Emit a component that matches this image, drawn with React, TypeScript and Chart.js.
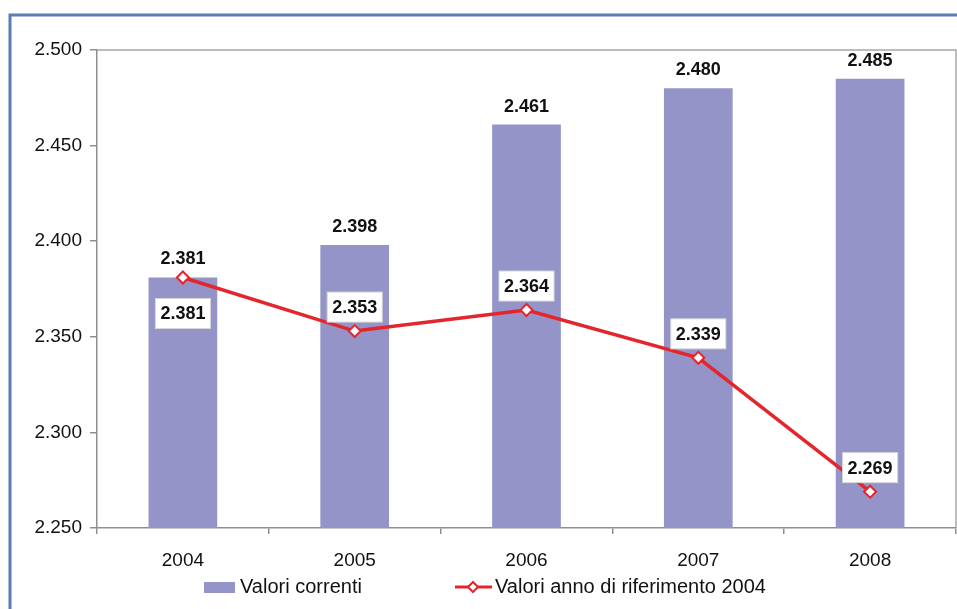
import React, { useEffect, useRef } from "react";
import { Chart, registerables } from "chart.js";

Chart.register(...registerables);

const years = ["2004", "2005", "2006", "2007", "2008"];
const valoriCorrenti = [2381, 2398, 2461, 2480, 2485];
const valoriRiferimento = [2381, 2353, 2364, 2339, 2269];
const lineLabelBelow = [true, false, false, false, false];
const yMin = 2250;
const yMax = 2500;
const yStep = 50;
const seriesNames = ["Valori correnti", "Valori anno di riferimento 2004"];

const FONT = "'Liberation Sans', Arial, sans-serif";
const BAR_COLOR = "#9494c8";
const LINE_COLOR = "#e3262c";
const AXIS_COLOR = "#8f8f8f";
const FRAME_COLOR = "#5a7db4";

const fmt = (v: number) =>
  `${Math.floor(v / 1000)}.${String(Math.round(v % 1000)).padStart(3, "0")}`;

const decorPlugin = {
  id: "decor",
  beforeDraw(chart: any) {
    const ctx = chart.ctx;
    ctx.save();
    ctx.fillStyle = "#ffffff";
    ctx.fillRect(0, 0, chart.width, chart.height);
    ctx.strokeStyle = FRAME_COLOR;
    ctx.lineWidth = 3;
    ctx.beginPath();
    ctx.moveTo(10, chart.height);
    ctx.lineTo(10, 15);
    ctx.lineTo(chart.width, 15);
    ctx.stroke();
    ctx.restore();
  },
  beforeDatasetsDraw(chart: any) {
    const { ctx, chartArea } = chart;
    ctx.save();
    ctx.strokeStyle = "#a8a8a8";
    ctx.lineWidth = 1.5;
    ctx.beginPath();
    ctx.moveTo(chartArea.left, chartArea.top);
    ctx.lineTo(chartArea.right, chartArea.top);
    ctx.lineTo(chartArea.right, chartArea.bottom);
    ctx.stroke();
    ctx.restore();
  },
  afterDatasetsDraw(chart: any) {
    const ctx = chart.ctx;
    ctx.save();
    ctx.font = `bold 18px ${FONT}`;
    ctx.textAlign = "center";
    ctx.textBaseline = "middle";
    ctx.fillStyle = "#111111";
    const barMeta = chart.getDatasetMeta(0);
    barMeta.data.forEach((el: any, i: number) => {
      ctx.fillText(fmt(valoriCorrenti[i]), el.x, el.y - 18);
    });
    const lineMeta = chart.getDatasetMeta(1);
    lineMeta.data.forEach((el: any, i: number) => {
      const txt = fmt(valoriRiferimento[i]);
      const w = ctx.measureText(txt).width + 10;
      const h = 30;
      const cy = lineLabelBelow[i] ? el.y + 36 : el.y - 24;
      ctx.fillStyle = "#ffffff";
      ctx.fillRect(el.x - w / 2, cy - h / 2, w, h);
      ctx.strokeStyle = "#d8d8d8";
      ctx.lineWidth = 1;
      ctx.strokeRect(el.x - w / 2, cy - h / 2, w, h);
      ctx.fillStyle = "#111111";
      ctx.fillText(txt, el.x, cy + 1);
    });
    ctx.restore();
  },
  afterDraw(chart: any) {
    const ctx = chart.ctx;
    ctx.save();
    const ly = 587;
    ctx.fillStyle = BAR_COLOR;
    ctx.fillRect(204, 582, 31, 11);
    ctx.font = `20px ${FONT}`;
    ctx.textAlign = "left";
    ctx.textBaseline = "middle";
    ctx.fillStyle = "#111111";
    ctx.fillText(seriesNames[0], 240, ly);
    ctx.strokeStyle = LINE_COLOR;
    ctx.lineWidth = 3;
    ctx.beginPath();
    ctx.moveTo(455, ly);
    ctx.lineTo(492, ly);
    ctx.stroke();
    ctx.beginPath();
    ctx.moveTo(473, ly - 5);
    ctx.lineTo(478, ly);
    ctx.lineTo(473, ly + 5);
    ctx.lineTo(468, ly);
    ctx.closePath();
    ctx.fillStyle = "#ffffff";
    ctx.fill();
    ctx.lineWidth = 2;
    ctx.stroke();
    ctx.fillStyle = "#111111";
    ctx.fillText(seriesNames[1], 495, ly);
    ctx.restore();
  },
};

export default function App() {
  const ref = useRef<HTMLCanvasElement | null>(null);
  useEffect(() => {
    document.body.style.margin = "0";
    const canvas = ref.current;
    if (!canvas) return;
    const chart = new Chart(canvas, {
      type: "bar",
      data: {
        labels: years,
        datasets: [
          {
            type: "bar",
            label: seriesNames[0],
            data: valoriCorrenti,
            backgroundColor: BAR_COLOR,
            borderWidth: 0,
            barPercentage: 0.4,
            categoryPercentage: 1,
            order: 2,
          },
          {
            type: "line",
            label: seriesNames[1],
            data: valoriRiferimento,
            borderColor: LINE_COLOR,
            borderWidth: 3.5,
            pointStyle: "rectRot",
            pointRadius: 6,
            pointBackgroundColor: "#ffffff",
            pointBorderColor: LINE_COLOR,
            pointBorderWidth: 2,
            tension: 0,
            order: 1,
          } as any,
        ],
      },
      options: {
        animation: false,
        responsive: false,
        devicePixelRatio: 1,
        layout: {
          autoPadding: false,
          padding: { top: 50, right: 1, left: 0, bottom: 0 },
        },
        plugins: {
          legend: { display: false },
          tooltip: { enabled: false },
          title: { display: false },
        },
        scales: {
          x: {
            offset: true,
            grid: {
              offset: true,
              drawOnChartArea: false,
              drawTicks: true,
              tickLength: 6,
              color: AXIS_COLOR,
              lineWidth: 1.5,
            },
            border: { color: AXIS_COLOR, width: 1.5 },
            ticks: {
              font: { size: 19, family: FONT },
              color: "#111111",
              padding: 15,
            },
            afterFit: (s: any) => {
              s.height = 81;
              s.paddingLeft = 0;
              s.paddingRight = 0;
            },
          },
          y: {
            min: yMin,
            max: yMax,
            grid: {
              drawOnChartArea: false,
              drawTicks: true,
              tickLength: 7,
              color: AXIS_COLOR,
              lineWidth: 1.5,
            },
            border: { color: AXIS_COLOR, width: 1.5 },
            ticks: {
              stepSize: yStep,
              callback: (v: any) => fmt(Number(v)),
              font: { size: 19, family: FONT },
              color: "#111111",
              padding: 8,
            },
            afterFit: (s: any) => {
              s.width = 97;
              s.paddingTop = 0;
              s.paddingBottom = 0;
            },
          },
        },
      },
      plugins: [decorPlugin],
    });
    return () => chart.destroy();
  }, []);
  return (
    <canvas
      ref={ref}
      width={957}
      height={609}
      style={{ display: "block", width: 957, height: 609 }}
    />
  );
}
